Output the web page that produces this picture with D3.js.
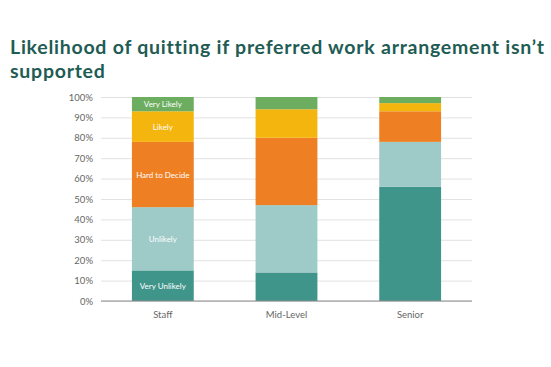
<!DOCTYPE html>
<html><head><meta charset="utf-8">
<script src="https://cdn.jsdelivr.net/npm/d3@7"></script>
<style>body{margin:0;background:#fff}svg{display:block}</style>
</head><body>
<svg id="c" width="551" height="367"></svg>
<script>
const categories = ["Staff", "Mid-Level", "Senior"];
const seriesNames = ["Very Unlikely", "Unlikely", "Hard to Decide", "Likely", "Very Likely"];
const veryUnlikely = [15, 14, 56];
const unlikely = [31, 33, 22];
const hardToDecide = [32, 33, 15];
const likely = [15, 14, 4];
const veryLikely = [7, 6, 3];
const seriesColors = ["#40958b", "#9ecac7", "#ee8023", "#f5b50f", "#6cad5f"];
const yTicks = [0, 10, 20, 30, 40, 50, 60, 70, 80, 90, 100];
const titleLines = ["Likelihood of quitting if preferred work arrangement isn\u2019t", "supported"];

const svg = d3.select("#c");
const x = d3.scaleBand().domain(categories).range([101, 472]).paddingInner(0.5).paddingOuter(0.25);
const y = d3.scaleLinear().domain([0, 100]).range([301, 97]);

svg.append("g").selectAll("text").data(titleLines).join("text")
  .attr("x", 10).attr("y", (d, i) => 54 + i * 23.5)
  .attr("font-family", "Lato, sans-serif").attr("font-weight", 700)
  .attr("font-size", 19.5).attr("letter-spacing", 0.75).attr("fill", "#1e5c54").text(d => d);

// gridlines
const yAxis = d3.axisLeft(y).tickValues(yTicks).tickFormat(d => d + "%").tickSize(-(472 - 101)).tickPadding(8);
const ga = svg.append("g").attr("transform", "translate(101,0)").call(yAxis);
ga.select(".domain").remove();
ga.selectAll(".tick line").attr("stroke", "#e2e2e2").attr("stroke-width", 1);
ga.selectAll(".tick text").attr("font-family", "Lato, sans-serif").attr("font-size", 9.5).attr("fill", "#666");

const rows = categories.map((c, i) => ({cat: c, "Very Unlikely": veryUnlikely[i], "Unlikely": unlikely[i], "Hard to Decide": hardToDecide[i], "Likely": likely[i], "Very Likely": veryLikely[i]}));
const stack = d3.stack().keys(seriesNames)(rows);

const layers = svg.append("g").selectAll("g").data(stack).join("g").attr("fill", (d, i) => seriesColors[i]);
layers.selectAll("rect").data(d => d).join("rect")
  .attr("x", d => x(d.data.cat)).attr("width", x.bandwidth())
  .attr("y", d => y(d[1])).attr("height", d => y(d[0]) - y(d[1]));

// inner labels on first bar
svg.append("g").selectAll("text").data(stack).join("text")
  .attr("x", x(categories[0]) + x.bandwidth() / 2)
  .attr("y", d => (y(d[0][0]) + y(d[0][1])) / 2 + 3)
  .attr("text-anchor", "middle").attr("font-family", "Lato, sans-serif").attr("font-size", 8)
  .attr("fill", "#fff").text(d => d.key);

// baseline
svg.append("line").attr("x1", 101).attr("x2", 472).attr("y1", y(0)).attr("y2", y(0)).attr("stroke", "#8a8a8a").attr("stroke-width", 1);

const xAxis = d3.axisBottom(x).tickSize(0).tickPadding(10);
const gx = svg.append("g").attr("transform", `translate(0,${y(0)})`).call(xAxis);
gx.select(".domain").remove();
gx.selectAll("text").attr("font-family", "Lato, sans-serif").attr("font-size", 9.5).attr("fill", "#666");
</script>
</body></html>
